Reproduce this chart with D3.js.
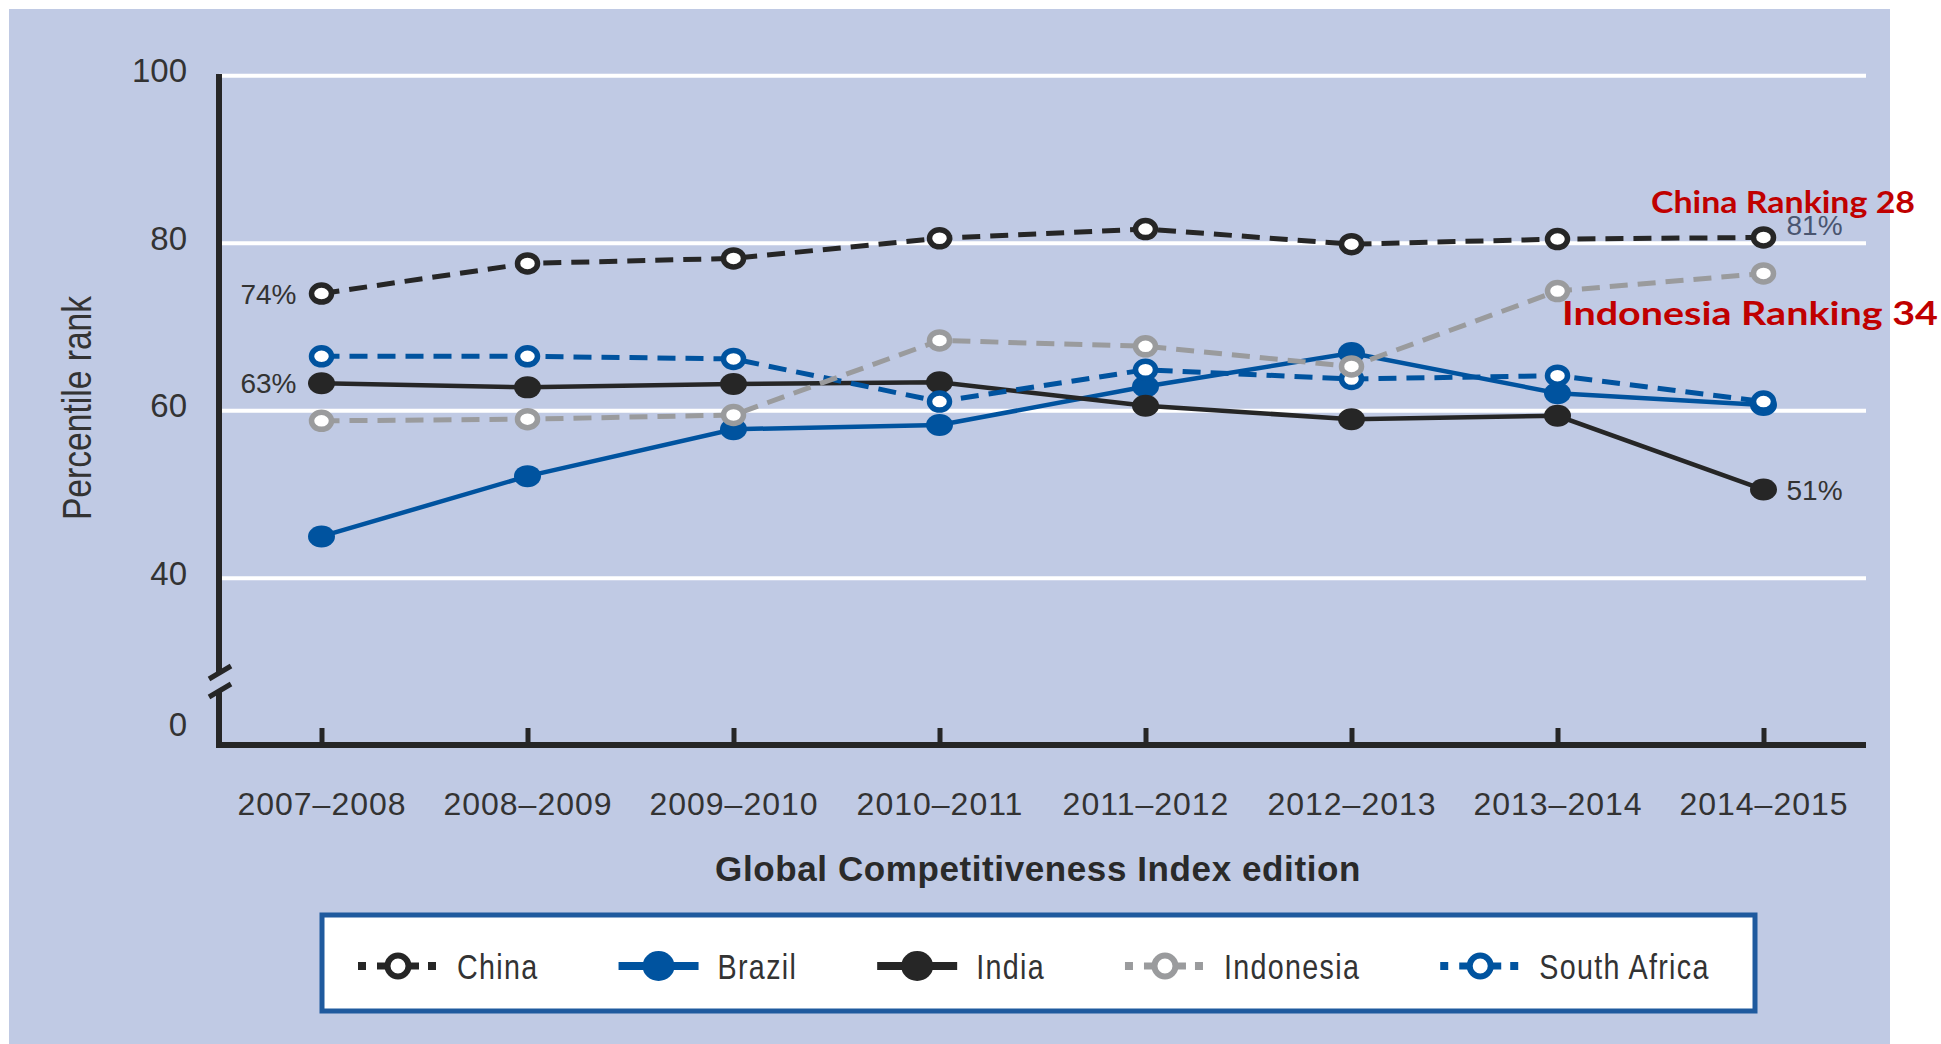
<!DOCTYPE html>
<html>
<head>
<meta charset="utf-8">
<script src="https://cdn.jsdelivr.net/npm/d3@7"></script>
<style>
  html, body { margin: 0; padding: 0; background: #ffffff; }
  svg { display: block; }
</style>
</head>
<body>
<svg id="chart" width="1941" height="1044"></svg>
<script>
// ---------------- data ----------------
const categories = ["2007–2008", "2008–2009", "2009–2010", "2010–2011", "2011–2012", "2012–2013", "2013–2014", "2014–2015"];
const china       = [74.0, 77.6, 78.2, 80.6, 81.7, 79.9, 80.5, 80.7];
const brazil      = [45.0, 52.2, 57.8, 58.3, 62.9, 66.9, 62.1, 60.7];
const india       = [63.3, 62.8, 63.2, 63.4, 60.6, 59.0, 59.4, 50.6];
const indonesia   = [58.8, 59.0, 59.5, 68.4, 67.7, 65.3, 74.3, 76.4];
const southAfrica = [66.5, 66.5, 66.2, 61.1, 64.9, 63.8, 64.2, 61.1];
const yTicks = [0, 40, 60, 80, 100];
const gridTicks = [40, 60, 80, 100];
const seriesNames = ["China", "Brazil", "India", "Indonesia", "South Africa"];
const endLabels = [
  { series: "China", index: 0, text: "74%", side: "left" },
  { series: "India", index: 0, text: "63%", side: "left" },
  { series: "China", index: 7, text: "81%", side: "right-up" },
  { series: "India", index: 7, text: "51%", side: "right" }
];
const notes = ["China Ranking 28", "Indonesia Ranking 34"];
const xTitle = "Global Competitiveness Index edition";
const yTitle = "Percentile rank";

// ---------------- styles ----------------
const C_BLACK = "#262626", C_BLUE = "#00539F", C_GRAY = "#9A9B9D";
const styles = {
  "China":        { color: C_BLACK, dashed: true,  open: true },
  "Brazil":       { color: C_BLUE,  dashed: false, open: false },
  "India":        { color: C_BLACK, dashed: false, open: false },
  "Indonesia":    { color: C_GRAY,  dashed: true,  open: true },
  "South Africa": { color: C_BLUE,  dashed: true,  open: true }
};
const valuesBy = { "China": china, "Brazil": brazil, "India": india, "Indonesia": indonesia, "South Africa": southAfrica };
const drawOrder = ["Brazil", "India", "South Africa", "Indonesia", "China"];

const REG = "'Liberation Sans', Arial, sans-serif";
const NARROW_K = 0.82;
const TEXT = "#333333";

const svg = d3.select("#chart");

// panel background
svg.append("rect").attr("x", 9).attr("y", 9).attr("width", 1881).attr("height", 1035).attr("fill", "#C0CAE4");

// scales
const x = d3.scalePoint().domain(categories).range([321.5, 1763.5]);
const y = d3.scaleLinear().domain([0, 40, 100]).range([745, 578.3, 75.8]);
const plotLeft = 219, plotRight = 1866;

// gridlines
svg.append("g").selectAll("line").data(gridTicks).join("line")
  .attr("x1", plotLeft).attr("x2", plotRight)
  .attr("y1", d => y(d)).attr("y2", d => y(d))
  .attr("stroke", "#ffffff").attr("stroke-width", 4);

// y axis (labels via d3 axis)
const yAxis = svg.append("g").attr("transform", `translate(${plotLeft},0)`)
  .call(d3.axisLeft(y).tickValues(yTicks).tickSize(0).tickPadding(32));
yAxis.select(".domain").remove();
yAxis.selectAll("text")
  .attr("font-family", REG).attr("font-size", 33).attr("fill", TEXT)
  .attr("dy", d => d === 0 ? "-0.3em" : "0.18em");

// y axis line with break
const axisG = svg.append("g").attr("stroke", C_BLACK).attr("stroke-width", 6).attr("fill", "none");
axisG.append("line").attr("x1", plotLeft).attr("x2", plotLeft).attr("y1", 74).attr("y2", 673);
axisG.append("line").attr("x1", plotLeft).attr("x2", plotLeft).attr("y1", 691).attr("y2", y(0) + 3);
axisG.append("line").attr("x1", 209).attr("y1", 679).attr("x2", 231).attr("y2", 666).attr("stroke-width", 5);
axisG.append("line").attr("x1", 209).attr("y1", 697).attr("x2", 231).attr("y2", 684).attr("stroke-width", 5);

// x axis
const xAxis = svg.append("g").attr("transform", `translate(0,${y(0)})`)
  .call(d3.axisBottom(x).tickSizeInner(-17).tickSizeOuter(0).tickPadding(47));
xAxis.select(".domain").remove();
xAxis.selectAll(".tick line").attr("stroke", C_BLACK).attr("stroke-width", 5);
xAxis.selectAll("text").attr("font-family", REG).attr("font-size", 32).attr("fill", TEXT)
  .attr("letter-spacing", 1);
svg.append("line").attr("x1", 216).attr("x2", plotRight).attr("y1", y(0)).attr("y2", y(0))
  .attr("stroke", C_BLACK).attr("stroke-width", 6);

// axis titles
svg.append("text").attr("x", 1038).attr("y", 881).attr("text-anchor", "middle")
  .attr("font-family", REG).attr("font-weight", "bold").attr("font-size", 35).attr("letter-spacing", 0.6)
  .attr("fill", "#2a2a2a")
  .text(xTitle);
svg.append("text").attr("transform", `translate(91,408) rotate(-90) scale(${NARROW_K},1)`).attr("text-anchor", "middle")
  .attr("font-family", REG).attr("font-size", 41).attr("fill", TEXT)
  .text(yTitle);

// series
const line = d3.line().x((d, i) => x(categories[i])).y(d => y(d));
drawOrder.forEach(name => {
  const st = styles[name], vals = valuesBy[name];
  const g = svg.append("g");
  g.append("path").datum(vals).attr("d", line).attr("fill", "none")
    .attr("stroke", st.color).attr("stroke-width", st.dashed ? 5 : 4.5)
    .attr("stroke-dasharray", st.dashed ? "18,10" : null);
  const m = g.selectAll("ellipse").data(vals).join("ellipse")
    .attr("cx", (d, i) => x(categories[i])).attr("cy", d => y(d));
  if (st.open) {
    m.attr("rx", 10).attr("ry", 8.5).attr("fill", "#ffffff").attr("stroke", st.color).attr("stroke-width", 5.5);
  } else {
    m.attr("rx", 13.5).attr("ry", 11).attr("fill", st.color);
  }
});

// value labels
endLabels.forEach(l => {
  const v = valuesBy[l.series][l.index];
  const px = x(categories[l.index]), py = y(v);
  const t = svg.append("text").attr("font-family", REG).attr("font-size", 28).attr("fill", TEXT).text(l.text);
  if (l.side === "left") t.attr("x", px - 25).attr("y", py + 10).attr("text-anchor", "end");
  else if (l.side === "right-up") t.attr("x", px + 23).attr("y", py - 2).attr("fill", "#4a5570");
  else t.attr("x", px + 23).attr("y", py + 10);
});

// red annotations
svg.append("text").attr("x", 1651).attr("y", 213)
  .attr("font-family", "Lato, 'Open Sans', sans-serif").attr("font-weight", "bold").attr("font-size", 30)
  .attr("textLength", 264).attr("lengthAdjust", "spacingAndGlyphs")
  .attr("fill", "#C00000").text(notes[0]);
svg.append("text").attr("x", 1562).attr("y", 325)
  .attr("font-family", "Lato, 'Open Sans', sans-serif").attr("font-weight", "bold").attr("font-size", 33)
  .attr("textLength", 376).attr("lengthAdjust", "spacingAndGlyphs")
  .attr("fill", "#C00000").text(notes[1]);

// legend
svg.append("rect").attr("x", 322).attr("y", 915).attr("width", 1433).attr("height", 96)
  .attr("fill", "#ffffff").attr("stroke", "#1F5A9E").attr("stroke-width", 5);
const lg = svg.append("g");
let lx = 358;
const ly = 966;
seriesNames.forEach(name => {
  const st = styles[name];
  const cx = lx + 40;
  const item = lg.append("g");
  if (st.dashed) {
    item.append("rect").attr("x", cx - 40).attr("y", ly - 4).attr("width", 8).attr("height", 8).attr("fill", st.color);
    item.append("rect").attr("x", cx + 30).attr("y", ly - 4).attr("width", 8).attr("height", 8).attr("fill", st.color);
    item.append("line").attr("x1", cx - 21).attr("x2", cx + 21).attr("y1", ly).attr("y2", ly)
      .attr("stroke", st.color).attr("stroke-width", 7);
    item.append("ellipse").attr("cx", cx).attr("cy", ly).attr("rx", 10.5).attr("ry", 10.5)
      .attr("fill", "#ffffff").attr("stroke", st.color).attr("stroke-width", 6);
  } else {
    item.append("line").attr("x1", cx - 40).attr("x2", cx + 40).attr("y1", ly).attr("y2", ly)
      .attr("stroke", st.color).attr("stroke-width", 8);
    item.append("ellipse").attr("cx", cx).attr("cy", ly).attr("rx", 16).attr("ry", 15).attr("fill", st.color);
  }
  const t = item.append("text").attr("transform", `translate(${cx + 59},${ly + 13}) scale(${NARROW_K},1)`)
    .attr("font-family", REG).attr("font-size", 35).attr("letter-spacing", 1.6).attr("fill", TEXT).text(name);
  lx = cx + 59 + t.node().getComputedTextLength() * NARROW_K + 80;
});
</script>
</body>
</html>
